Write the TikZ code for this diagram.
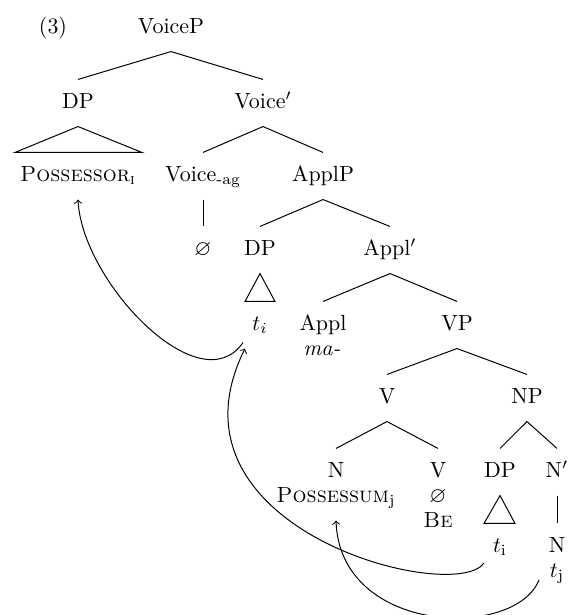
\documentclass[tikz,border=0pt]{standalone}
\usepackage{amssymb}
\begin{document}
\begin{tikzpicture}[x=0.016cm,y=-0.016cm,
	cat/.style={inner xsep=1pt,inner ysep=6pt,text height=1.6ex,text depth=.5ex},
	branch/.style={line width=.45pt},
	move/.style={->,line width=.45pt}]
	\useasboundingbox (0,0) rectangle (571,615);
	% example number
	\node[cat] (exnum) at (53,28) {(3)};
	% VoiceP level
	\node[cat] (voicep) at (171,28) {VoiceP};
	\node[cat] (dpa) at (78,103) {DP};
	\node[cat] (voicebar) at (263,103) {Voice$'$};
	\node[cat] (poss) at (78,176) {\textsc{Possessor}\textsubscript{\textsc{i}}};
	\node[cat] (voiceag) at (203,176) {Voice\textsubscript{-ag}};
	\node[cat] (applp) at (323,176) {ApplP};
	\node[cat] (nulla) at (203,250) {$\varnothing$};
	% ApplP level
	\node[cat] (dpb) at (260,250) {DP};
	\node[cat] (applbar) at (390,250) {Appl$'$};
	\node[cat] (tia) at (260,325) {$t_i$};
	\node[cat] (appl) at (323,325) {Appl};
	\node[cat] (ma) at (322,350) {\textit{ma-}};
	\node[cat] (vp) at (457,325) {VP};
	% VP level
	\node[cat] (v) at (387,398) {V};
	\node[cat] (np) at (527,398) {NP};
	\node[cat] (n) at (336,472) {N};
	\node[cat] (possm) at (336,497) {\textsc{Possessum}\textsubscript{j}};
	\node[cat] (vb) at (438,472) {V};
	\node[cat] (nullb) at (438,497) {$\varnothing$};
	\node[cat] (be) at (438,522) {\textsc{Be}};
	\node[cat] (dpc) at (500,472) {DP};
	\node[cat] (tib) at (500,547) {$t_{\mathrm{i}}$};
	\node[cat] (nbar) at (557,472) {N$'$};
	\node[cat] (nc) at (557,547) {N};
	\node[cat] (tj) at (557,572) {$t_{\mathrm{j}}$};
	% Branches
	\draw[branch] (dpa.north) -- (voicep.south) -- (voicebar.north);
	\draw[branch] (voiceag.north) -- (voicebar.south) -- (applp.north);
	\draw[branch] (voiceag.south) -- (nulla.north);
	\draw[branch] (dpb.north) -- (applp.south) -- (applbar.north);
	\draw[branch] (appl.north) -- (applbar.south) -- (vp.north);
	\draw[branch] (v.north) -- (vp.south) -- (np.north);
	\draw[branch] (n.north) -- (v.south) -- (vb.north);
	\draw[branch] (dpc.north) -- (np.south) -- (nbar.north);
	\draw[branch] (nbar.south) -- (nc.north);
	% Triangles
	\draw[branch] (dpa.south) -- ([shift={(-63,0)}]poss.north) -- ([shift={(64,0)}]poss.north) -- cycle;
	\draw[branch] (dpb.south) -- ([shift={(-15,0)}]tia.north) -- ([shift={(15,0)}]tia.north) -- cycle;
	\draw[branch] (dpc.south) -- ([shift={(-16,0)}]tib.north) -- ([shift={(15,0)}]tib.north) -- cycle;
	% Movement
	\draw[move] ([shift={(-17,-6)}]tia.south) .. controls (200,405) and (82,282) .. (poss.south);
	\draw[move] ([shift={(-16,16)}]tib.center) .. controls (455,605) and (155,530) .. ([shift={(-15,0)}]tia.south);
	\draw[move] ([shift={(-18,8)}]tj.center) .. controls (515,640) and (340,635) .. (possm.south);
\end{tikzpicture}
\end{document}
